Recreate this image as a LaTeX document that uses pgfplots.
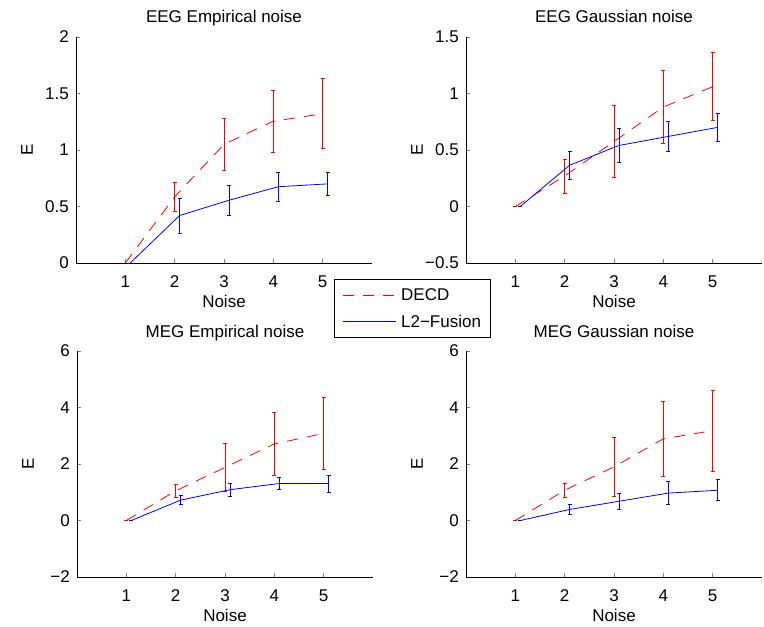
\documentclass[border=0pt]{standalone}
\usepackage{fontspec}
\setmainfont{Liberation Sans}
\usepackage{pgfplots}
\pgfplotsset{compat=1.18}

\newcommand{\fs}{\fontsize{17}{20}\selectfont}

\pgfplotsset{
  mpanel/.style={
    width=296pt, height=226pt, scale only axis,
    xmin=0, xmax=6, xtick={1,2,3,4,5},
    axis x line*=bottom, axis y line*=left,
    tick align=inside, major tick length=4pt,
    axis line style={line width=0.7pt}, tick style={line width=0.6pt},
    font=\fs,
    /pgf/number format/assume math mode=true,
    xlabel={Noise}, ylabel={E},
    title style={at={(0.5,1)}, anchor=base, yshift=8pt, font=\fs},
    xlabel style={at={(axis description cs:0.5,0)}, anchor=base, yshift=-45pt, font=\fs},
    every axis y label/.style={at={(axis description cs:0,0.5)}, xshift=-49pt, rotate=90, anchor=center, font=\fs},
    xticklabel style={anchor=base, yshift=-25pt, inner sep=0pt},
    yticklabel style={anchor=east, xshift=-7pt, inner sep=0pt},
    cycle list={
      {draw=red, line width=0.8pt, dash pattern=on 11pt off 9pt, mark=none},
      {draw=blue, line width=0.8pt, solid, mark=none}},
    legend image code/.code={\draw[#1] (0pt,0pt) -- (53pt,0pt);},
  },
  redbars/.style={error bars/.cd, y dir=both, y explicit,
    error bar style={solid, draw=red, line width=0.8pt},
    error mark options={rotate=90, draw=red, mark size=2pt, line width=0.8pt, solid}},
  bluebars/.style={error bars/.cd, y dir=both, y explicit,
    error bar style={solid, draw=blue, line width=0.8pt},
    error mark options={rotate=90, draw=blue, mark size=2pt, line width=0.8pt, solid}},
}

\begin{document}
\begin{tikzpicture}
\path[use as bounding box] (0pt,0pt) rectangle (764pt,627pt);

% EEG empirical
\begin{axis}[mpanel, at={(76pt,364pt)}, anchor=south west,
  title={EEG Empirical noise}, ymin=0, ymax=2, ytick={0,0.5,1,1.5,2},
  legend style={at={(axis description cs:0.8716,-0.0708)}, anchor=north west,
    line width=0.7pt, font=\fs, legend cell align=left,
    inner xsep=8pt, inner ysep=8pt, row sep=11pt, column sep=4pt,
    nodes={inner sep=1pt}}]
\addplot+[redbars] coordinates {
(1,0) +- (0,0)
(2,0.585) +- (0,0.125)
(3,1.05) +- (0,0.23)
(4,1.255) +- (0,0.275)
(5,1.32) +- (0,0.31)
};
\addlegendentry{DECD}
\addplot+[bluebars] coordinates {
(1.1,0) +- (0,0)
(2.1,0.42) +- (0,0.155)
(3.1,0.555) +- (0,0.135)
(4.1,0.675) +- (0,0.13)
(5.1,0.70) +- (0,0.105)
};
\addlegendentry{L2−Fusion}
\end{axis}

% EEG gaussian
\begin{axis}[mpanel, at={(466pt,364pt)}, anchor=south west,
  title={EEG Gaussian noise}, ymin=-0.5, ymax=1.5, ytick={-0.5,0,0.5,1,1.5},
  yticklabels={−0.5,0,0.5,1,1.5}]
\addplot+[redbars] coordinates {
(1,0) +- (0,0)
(2,0.27) +- (0,0.15)
(3,0.575) +- (0,0.32)
(4,0.88) +- (0,0.32)
(5,1.06) +- (0,0.30)
};
\addplot+[bluebars] coordinates {
(1.1,0) +- (0,0)
(2.1,0.365) +- (0,0.125)
(3.1,0.54) +- (0,0.15)
(4.1,0.62) +- (0,0.135)
(5.1,0.70) +- (0,0.12)
};
\end{axis}

% MEG empirical
\begin{axis}[mpanel, at={(77pt,50pt)}, anchor=south west,
  title={MEG Empirical noise}, ymin=-2, ymax=6, ytick={-2,0,2,4,6},
  yticklabels={−2,0,2,4,6}]
\addplot+[redbars] coordinates {
(1,0) +- (0,0)
(2,1.05) +- (0,0.22)
(3,1.88) +- (0,0.85)
(4,2.71) +- (0,1.12)
(5,3.08) +- (0,1.27)
};
\addplot+[bluebars] coordinates {
(1.1,0) +- (0,0)
(2.1,0.72) +- (0,0.16)
(3.1,1.09) +- (0,0.23)
(4.1,1.31) +- (0,0.22)
(5.1,1.31) +- (0,0.30)
};
\end{axis}

% MEG gaussian
\begin{axis}[mpanel, at={(466pt,50pt)}, anchor=south west,
  title={MEG Gaussian noise}, ymin=-2, ymax=6, ytick={-2,0,2,4,6},
  yticklabels={−2,0,2,4,6}]
\addplot+[redbars] coordinates {
(1,0) +- (0,0)
(2,1.07) +- (0,0.26)
(3,1.9) +- (0,1.05)
(4,2.89) +- (0,1.33)
(5,3.18) +- (0,1.43)
};
\addplot+[bluebars] coordinates {
(1.1,0) +- (0,0)
(2.1,0.39) +- (0,0.165)
(3.1,0.68) +- (0,0.28)
(4.1,0.97) +- (0,0.40)
(5.1,1.07) +- (0,0.375)
};
\end{axis}
\end{tikzpicture}
\end{document}
